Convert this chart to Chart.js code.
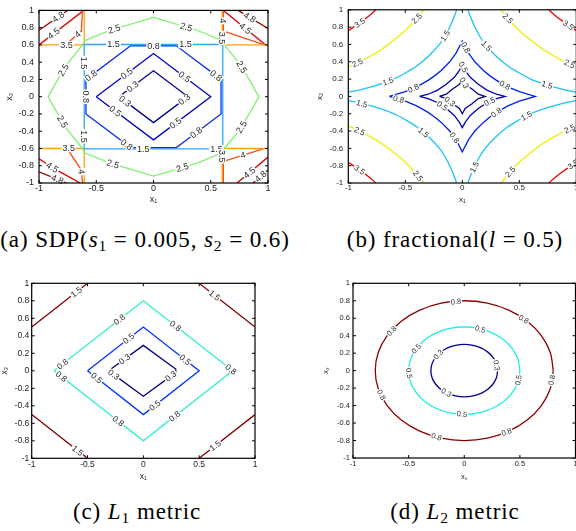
<!DOCTYPE html>
<html>
<head>
<meta charset="utf-8">
<script src="https://cdn.jsdelivr.net/npm/chart.js@4.4.1/dist/chart.umd.min.js"></script>
<style>
  body { margin: 0; background: #fff; }
  #page { position: relative; width: 576px; height: 531px; overflow: hidden; }
  canvas { position: absolute; }
  .cap { position: absolute; transform: translate(-50%, -50%); white-space: nowrap;
         font-family: "Liberation Serif", "DejaVu Serif", serif; font-size: 23px; letter-spacing: 0.9px; color: #000; }
  .cap sub { font-size: 68%; vertical-align: -0.25em; line-height: 0; }
</style>
</head>
<body>
<div id="page">
  <canvas id="pa" width="290" height="212" style="left:0;top:0"></canvas>
  <canvas id="pb" width="300" height="212" style="left:290px;top:0"></canvas>
  <canvas id="pc" width="290" height="212" style="left:0;top:270px"></canvas>
  <canvas id="pd" width="300" height="212" style="left:290px;top:270px"></canvas>
  <div class="cap" style="left:145px;top:240px">(a) SDP(<i>s</i><sub>1</sub> = 0.005, <i>s</i><sub>2</sub> = 0.6)</div>
  <div class="cap" style="left:455px;top:240px">(b) fractional(<i>l</i> = 0.5)</div>
  <div class="cap" style="left:137px;top:512px">(c) <i>L</i><sub>1</sub> metric</div>
  <div class="cap" style="left:455px;top:512px">(d) <i>L</i><sub>2</sub> metric</div>
</div>
<script>
// axis ticks shared by all four panels
const xTicks = [-1, -0.5, 0, 0.5, 1];
const yTicks = [-1, -0.8, -0.6, -0.4, -0.2, 0, 0.2, 0.4, 0.6, 0.8, 1];

// (a) SDP contours, every level is a list of polylines of [x1, x2]
const sdp03 = [[[-0.29,0.01],[0,0.3],[0.29,0.01],[0.29,-0.01],[0,-0.3],[-0.29,-0.01],[-0.29,0.01]]];
const sdp05 = [[[-0.5,0],[0,0.5],[0.5,0],[0,-0.5],[-0.5,0]]];
const sdp08 = [[[-0.2,0.59],[0.2,0.59],[0.59,0.2],[0.59,-0.2],[0.2,-0.59],[-0.2,-0.59],[-0.59,-0.2],[-0.59,0.2],[-0.2,0.59]]];
const sdp15 = [[[-0.605,0.605],[0.605,0.605],[0.605,-0.605],[-0.605,-0.605],[-0.605,0.605]]];
const sdp25 = [[[0,0.92],[0.38,0.77],[0.6,0.65],[0.62,0.6],[0.76,0.37],[0.87,0.12],[0.92,0],[0.87,-0.12],[0.76,-0.37],[0.62,-0.6],[0.6,-0.65],[0.38,-0.77],[0,-0.92],[-0.38,-0.77],[-0.6,-0.65],[-0.62,-0.6],[-0.76,-0.37],[-0.87,-0.12],[-0.92,0],[-0.87,0.12],[-0.76,0.37],[-0.62,0.6],[-0.6,0.65],[-0.38,0.77],[0,0.92]]];
const sdp35 = [
  [[-1,0.6],[-0.605,0.6],[-0.605,1]],
  [[0.6,1],[0.6,0.6],[1,0.6]],
  [[-1,-0.6],[-0.605,-0.6],[-0.605,-1]],
  [[0.6,-1],[0.6,-0.6],[1,-0.6]]
];
const sdp40 = [
  [[-0.77,0.6],[-0.63,0.76],[-0.62,1]],
  [[0.61,1],[0.61,0.76],[0.97,0.6]],
  [[-0.75,-0.61],[-0.63,-0.85],[-0.62,-1]],
  [[0.97,-0.6],[0.61,-0.75],[0.61,-1]]
];
const sdp45 = [
  [[-1,0.6],[-0.61,1]],
  [[0.61,1],[0.98,0.6]],
  [[-1,-0.72],[-0.86,-0.84],[-0.64,-1]],
  [[1,-0.7],[0.73,-1]]
];
const sdp48 = [
  [[-1,0.77],[-0.75,1]],
  [[0.74,1],[1,0.79]],
  [[-1,-0.87],[-0.76,-1]],
  [[1,-0.85],[0.87,-1]]
];
// [level, x1, x2] where the inline label sits
const sdpLabels = [
  [0.3,-0.19,0.13],[0.3,-0.26,-0.07],[0.3,0.28,-0.05],
  [0.5,-0.23,0.26],[0.5,0.26,0.21],[0.5,-0.34,-0.18],[0.5,0.2,-0.32],
  [0.8,0,0.59],[0.8,-0.55,0.25],[0.8,0.55,0.25],[0.8,-0.59,0],[0.8,-0.25,-0.58],[0.8,0.38,-0.43],
  [1.5,-0.35,0.605],[1.5,0.28,0.605],[1.5,-0.605,0.39],[1.5,-0.605,-0.46],[1.5,-0.09,-0.605],[1.5,0.55,-0.605],
  [2.5,-0.34,0.77],[2.5,0.28,0.78],[2.5,-0.8,0.32],[2.5,0.74,0.32],[2.5,-0.85,-0.33],[2.5,0.74,-0.33],[2.5,-0.35,-0.76],[2.5,0.25,-0.81],
  [3.5,-0.76,0.6],[3.5,0.6,0.68],[3.5,-0.74,-0.6],[3.5,0.6,-0.69],
  [4,-0.66,0.72],[4,0.61,0.88],[4,-0.63,-0.87],[4,0.78,-0.67],
  [4.5,-0.87,0.73],[4.5,0.8,0.79],[4.5,-0.875,-0.8],[4.5,0.8,-0.82],
  [4.8,-0.83,0.92],[4.8,0.84,0.92],[4.8,-0.84,-0.96],[4.8,0.92,-0.9]
];

// (b) fractional distance, l = 0.5
const frac03 = [[[-0.2,0],[-0.14,0.025],[-0.085,0.085],[-0.025,0.14],[0,0.2],[0.025,0.14],[0.085,0.085],[0.14,0.025],[0.2,0],[0.14,-0.025],[0.085,-0.085],[0.025,-0.14],[0,-0.2],[-0.025,-0.14],[-0.085,-0.085],[-0.14,-0.025],[-0.2,0]]];
const frac05 = [[[-0.375,0],[-0.3,0.025],[-0.22,0.07],[-0.14,0.14],[-0.07,0.22],[-0.025,0.3],[0,0.36],[0.025,0.3],[0.07,0.22],[0.14,0.14],[0.22,0.07],[0.3,0.025],[0.375,0],[0.3,-0.025],[0.22,-0.07],[0.14,-0.14],[0.07,-0.22],[0.025,-0.3],[0,-0.36],[-0.025,-0.3],[-0.07,-0.22],[-0.14,-0.14],[-0.22,-0.07],[-0.3,-0.025],[-0.375,0]]];
const frac08 = [[[-0.64,0],[-0.5,0.055],[-0.4,0.11],[-0.3,0.185],[-0.24,0.24],[-0.185,0.3],[-0.11,0.4],[-0.055,0.5],[0,0.64],[0.055,0.5],[0.11,0.4],[0.185,0.3],[0.24,0.24],[0.3,0.185],[0.4,0.11],[0.5,0.055],[0.64,0],[0.5,-0.055],[0.4,-0.11],[0.3,-0.185],[0.24,-0.24],[0.185,-0.3],[0.11,-0.4],[0.055,-0.5],[0,-0.64],[-0.055,-0.5],[-0.11,-0.4],[-0.185,-0.3],[-0.24,-0.24],[-0.3,-0.185],[-0.4,-0.11],[-0.5,-0.055],[-0.64,0]]];
const frac15 = [
  [[-1,0.05],[-0.9,0.075],[-0.8,0.11],[-0.7,0.15],[-0.6,0.2],[-0.5,0.27],[-0.4,0.35],[-0.3,0.46],[-0.2,0.6],[-0.15,0.7],[-0.1,0.83],[-0.06,0.96],[-0.05,1]],
  [[1,0.05],[0.9,0.075],[0.8,0.11],[0.7,0.15],[0.6,0.2],[0.5,0.27],[0.4,0.35],[0.3,0.46],[0.2,0.6],[0.15,0.7],[0.1,0.83],[0.06,0.96],[0.05,1]],
  [[-1,-0.05],[-0.9,-0.075],[-0.8,-0.11],[-0.7,-0.15],[-0.6,-0.2],[-0.5,-0.27],[-0.4,-0.35],[-0.3,-0.46],[-0.2,-0.6],[-0.15,-0.7],[-0.1,-0.83],[-0.06,-0.96],[-0.05,-1]],
  [[1,-0.05],[0.9,-0.075],[0.8,-0.11],[0.7,-0.15],[0.6,-0.2],[0.5,-0.27],[0.4,-0.35],[0.3,-0.46],[0.2,-0.6],[0.15,-0.7],[0.1,-0.83],[0.06,-0.96],[0.05,-1]]
];
const frac25 = [
  [[-1,0.34],[-0.9,0.4],[-0.8,0.47],[-0.7,0.55],[-0.6,0.65],[-0.5,0.76],[-0.4,0.9],[-0.34,1]],
  [[1,0.34],[0.9,0.4],[0.8,0.47],[0.7,0.55],[0.6,0.65],[0.5,0.76],[0.4,0.9],[0.34,1]],
  [[-1,-0.34],[-0.9,-0.4],[-0.8,-0.47],[-0.7,-0.55],[-0.6,-0.65],[-0.5,-0.76],[-0.4,-0.9],[-0.34,-1]],
  [[1,-0.34],[0.9,-0.4],[0.8,-0.47],[0.7,-0.55],[0.6,-0.65],[0.5,-0.76],[0.4,-0.9],[0.34,-1]]
];
const frac35 = [
  [[-1,0.76],[-0.9,0.85],[-0.8,0.95],[-0.76,1]],
  [[1,0.76],[0.9,0.85],[0.8,0.95],[0.76,1]],
  [[-1,-0.76],[-0.9,-0.85],[-0.8,-0.95],[-0.76,-1]],
  [[1,-0.76],[0.9,-0.85],[0.8,-0.95],[0.76,-1]]
];
const fracLabels = [
  [0.3,0.01,0.15],[0.3,-0.11,-0.06],
  [0.5,0.01,0.34],[0.5,-0.17,-0.1],[0.5,0.24,-0.06],
  [0.8,0.02,0.56],[0.8,-0.44,0.13],[0.8,0.37,0.12],[0.8,-0.56,-0.04],[0.8,0.29,-0.17],[0.8,-0.06,-0.47],
  [1.5,-0.15,0.7],[1.5,0.21,0.58],[1.5,-0.65,0.17],[1.5,0.74,0.12],[1.5,-0.88,-0.08],[1.5,0.56,-0.22],[1.5,-0.33,-0.4],[1.5,0.11,-0.82],
  [2.5,-0.4,0.9],[2.5,0.4,0.9],[2.5,-0.92,0.39],[2.5,0.94,0.37],[2.5,-0.9,-0.4],[2.5,0.94,-0.37],[2.5,-0.39,-0.92],[2.5,0.42,-0.87],
  [3.5,-0.9,0.85],[3.5,0.93,0.82],[3.5,-0.9,-0.85],[3.5,0.97,-0.78]
];

// (c) L1 metric
const l1_03 = [[[-0.29,0.02],[0,0.29],[0.29,0.02],[0.29,-0.02],[0,-0.29],[-0.29,-0.02],[-0.29,0.02]]];
const l1_05 = [[[-0.5,0],[0,0.5],[0.5,0],[0,-0.5],[-0.5,0]]];
const l1_08 = [[[-0.8,0],[0,0.8],[0.8,0],[0,-0.8],[-0.8,0]]];
const l1_15 = [
  [[-1,0.5],[-0.5,1]],
  [[0.5,1],[1,0.5]],
  [[-1,-0.5],[-0.5,-1]],
  [[0.5,-1],[1,-0.5]]
];
const l1Labels = [
  [0.3,-0.16,0.12],[0.3,-0.28,-0.07],[0.3,0.25,-0.07],
  [0.5,-0.12,0.35],[0.5,0.37,0.12],[0.5,-0.43,-0.1],[0.5,0.1,-0.39],
  [0.8,-0.21,0.58],[0.8,0.28,0.5],[0.8,-0.72,0.07],[0.8,-0.75,-0.09],[0.8,0.78,0.01],[0.8,-0.24,-0.6],[0.8,0.28,-0.52],
  [1.5,-0.6,0.9],[1.5,0.63,0.85],[1.5,-0.6,-0.93],[1.5,0.64,-0.85]
];

// (d) L2 metric
const l2_03 = [[[0.3,0],[0.29,0.078],[0.26,0.15],[0.212,0.212],[0.15,0.26],[0.078,0.29],[0,0.3],[-0.078,0.29],[-0.15,0.26],[-0.212,0.212],[-0.26,0.15],[-0.29,0.078],[-0.3,0],[-0.29,-0.078],[-0.26,-0.15],[-0.212,-0.212],[-0.15,-0.26],[-0.078,-0.29],[0,-0.3],[0.078,-0.29],[0.15,-0.26],[0.212,-0.212],[0.26,-0.15],[0.29,-0.078],[0.3,0]]];
const l2_05 = [[[0.5,0],[0.483,0.129],[0.433,0.25],[0.354,0.354],[0.25,0.433],[0.129,0.483],[0,0.5],[-0.129,0.483],[-0.25,0.433],[-0.354,0.354],[-0.433,0.25],[-0.483,0.129],[-0.5,0],[-0.483,-0.129],[-0.433,-0.25],[-0.354,-0.354],[-0.25,-0.433],[-0.129,-0.483],[0,-0.5],[0.129,-0.483],[0.25,-0.433],[0.354,-0.354],[0.433,-0.25],[0.483,-0.129],[0.5,0]]];
const l2_08 = [[[0.8,0],[0.773,0.207],[0.693,0.4],[0.566,0.566],[0.4,0.693],[0.207,0.773],[0,0.8],[-0.207,0.773],[-0.4,0.693],[-0.566,0.566],[-0.693,0.4],[-0.773,0.207],[-0.8,0],[-0.773,-0.207],[-0.693,-0.4],[-0.566,-0.566],[-0.4,-0.693],[-0.207,-0.773],[0,-0.8],[0.207,-0.773],[0.4,-0.693],[0.566,-0.566],[0.693,-0.4],[0.773,-0.207],[0.8,0]]];
const l2Labels = [
  [0.3,-0.23,0.18],[0.3,0.28,0.06],[0.3,-0.17,-0.27],
  [0.5,0.14,0.46],[0.5,-0.43,0.25],[0.5,-0.5,-0.03],[0.5,0.5,-0.11],[0.5,-0.02,-0.5],
  [0.8,-0.075,0.8],[0.8,0.53,0.58],[0.8,-0.65,0.45],[0.8,0.8,-0.11],[0.8,-0.75,-0.28],[0.8,0.38,-0.7],[0.8,-0.25,-0.76]
];

function fmt(v) {
  return String(Math.round(v * 10) / 10);
}

// box with inward ticks (matlab style) + inline contour labels
const contourFrame = {
  id: 'contourFrame',
  afterDatasetsDraw(chart, args, opts) {
    const ctx = chart.ctx, a = chart.chartArea;
    const xs = chart.scales.x, ys = chart.scales.y;
    ctx.save();
    ctx.font = opts.size + 'px "Liberation Sans", Arial, sans-serif';
    ctx.textAlign = 'center';
    ctx.textBaseline = 'middle';
    opts.labels.forEach(function (lb) {
      const px = xs.getPixelForValue(lb[1]), py = ys.getPixelForValue(lb[2]);
      let best = null;
      chart.data.datasets.forEach(function (ds) {
        if (ds.level !== lb[0]) return;
        for (let i = 1; i < ds.data.length; i++) {
          const x1 = xs.getPixelForValue(ds.data[i - 1].x), y1 = ys.getPixelForValue(ds.data[i - 1].y);
          const x2 = xs.getPixelForValue(ds.data[i].x), y2 = ys.getPixelForValue(ds.data[i].y);
          const dx = x2 - x1, dy = y2 - y1, len2 = dx * dx + dy * dy;
          let t = len2 ? ((px - x1) * dx + (py - y1) * dy) / len2 : 0;
          t = Math.max(0, Math.min(1, t));
          const qx = x1 + t * dx, qy = y1 + t * dy;
          const d = (qx - px) * (qx - px) + (qy - py) * (qy - py);
          if (!best || d < best.d) best = {d: d, x: qx, y: qy, ang: Math.atan2(dy, dx)};
        }
      });
      if (!best) return;
      let ang = best.ang;
      if (ang > Math.PI / 2 + 0.01) ang -= Math.PI;
      if (ang < -Math.PI / 2 + 0.01) ang += Math.PI;
      const txt = String(lb[0]);
      const tw = ctx.measureText(txt).width;
      ctx.save();
      ctx.translate(best.x, best.y);
      ctx.rotate(ang);
      ctx.fillStyle = '#fff';
      ctx.fillRect(-tw / 2 - 1, -opts.size * 0.42, tw + 2, opts.size * 0.84);
      ctx.fillStyle = '#2a2a2a';
      ctx.fillText(txt, 0, 0.5);
      ctx.restore();
    });

    ctx.strokeStyle = '#000';
    ctx.lineWidth = 1.2;
    ctx.strokeRect(a.left, a.top, a.right - a.left, a.bottom - a.top);
    ctx.beginPath();
    xTicks.forEach(function (v) {
      const p = xs.getPixelForValue(v);
      ctx.moveTo(p, a.bottom); ctx.lineTo(p, a.bottom - 3);
      ctx.moveTo(p, a.top); ctx.lineTo(p, a.top + 3);
    });
    yTicks.forEach(function (v) {
      const p = ys.getPixelForValue(v);
      ctx.moveTo(a.left, p); ctx.lineTo(a.left + 3, p);
      ctx.moveTo(a.right, p); ctx.lineTo(a.right - 3, p);
    });
    ctx.lineWidth = 1;
    ctx.stroke();
    ctx.restore();
  }
};

function buildDatasets(levels) {
  const out = [];
  levels.forEach(function (lv) {
    lv.lines.forEach(function (seg) {
      out.push({
        level: lv.value,
        data: seg.map(function (p) { return {x: p[0], y: p[1]}; }),
        showLine: true,
        borderColor: lv.color,
        borderWidth: 1.3,
        tension: lv.tension || 0,
        pointRadius: 0,
        fill: false
      });
    });
  });
  return out;
}

function makePanel(id, p) {
  const cv = document.getElementById(id);
  const W = cv.width, H = cv.height;
  const font = {family: '"Liberation Sans", Arial, sans-serif', size: p.font};
  return new Chart(cv, {
    type: 'scatter',
    data: {datasets: buildDatasets(p.levels)},
    options: {
      responsive: false,
      animation: false,
      events: [],
      layout: {autoPadding: false, padding: {left: 0, top: p.area[1], right: W - p.area[2], bottom: 0}},
      plugins: {
        legend: {display: false},
        tooltip: {enabled: false},
        contourFrame: {labels: p.labels, size: p.font}
      },
      scales: {
        x: {
          type: 'linear', min: -1, max: 1,
          afterBuildTicks: function (s) { s.ticks = xTicks.map(function (v) { return {value: v}; }); },
          afterFit: function (s) { s.height = H - p.area[3]; },
          grid: {display: false, drawTicks: false},
          border: {display: false},
          ticks: {font: font, color: '#222', padding: p.xTickPad, maxRotation: 0, autoSkip: false, callback: fmt},
          title: {display: true, text: 'x\u2081', font: font, color: '#222', padding: {top: 0, bottom: p.xTitlePad}}
        },
        y: {
          type: 'linear', min: -1, max: 1,
          afterBuildTicks: function (s) { s.ticks = yTicks.map(function (v) { return {value: v}; }); },
          afterFit: function (s) { s.width = p.area[0]; },
          grid: {display: false, drawTicks: false},
          border: {display: false},
          ticks: {font: font, color: '#222', padding: p.yTickPad, autoSkip: false, callback: fmt},
          title: {display: true, text: 'x\u2082', font: font, color: '#222', padding: {top: p.yTitlePad, bottom: 0}}
        }
      }
    },
    plugins: [contourFrame]
  });
}

makePanel('pa', {
  levels: [
    {value: 0.3, color: '#00008c', lines: sdp03},
    {value: 0.5, color: '#0000c4', lines: sdp05},
    {value: 0.8, color: '#0a2cf0', lines: sdp08},
    {value: 1.5, color: '#2ca8f8', lines: sdp15},
    {value: 2.5, color: '#80f070', lines: sdp25},
    {value: 3.5, color: '#ffa010', lines: sdp35},
    {value: 4, color: '#ff4a10', lines: sdp40},
    {value: 4.5, color: '#d80000', lines: sdp45},
    {value: 4.8, color: '#9a0000', lines: sdp48}
  ],
  labels: sdpLabels,
  area: [39, 4, 268, 183], font: 9, xTickPad: 0, xTitlePad: 6.6, yTickPad: 5, yTitlePad: 4.6
});

makePanel('pb', {
  levels: [
    {value: 0.3, color: '#000090', lines: frac03},
    {value: 0.5, color: '#0000c0', lines: frac05},
    {value: 0.8, color: '#0020f0', lines: frac08},
    {value: 1.5, color: '#18c4f4', lines: frac15, tension: 0.3},
    {value: 2.5, color: '#eeee00', lines: frac25, tension: 0.3},
    {value: 3.5, color: '#f00000', lines: frac35, tension: 0.3}
  ],
  labels: fracLabels,
  area: [58.3, 4, 286.3, 183], font: 8, xTickPad: 0, xTitlePad: 7.2, yTickPad: 5, yTitlePad: 24.5
});

makePanel('pc', {
  levels: [
    {value: 0.3, color: '#000080', lines: l1_03},
    {value: 0.5, color: '#0030ff', lines: l1_05},
    {value: 0.8, color: '#30f0d0', lines: l1_08},
    {value: 1.5, color: '#800000', lines: l1_15}
  ],
  labels: l1Labels,
  area: [31.7, 13.3, 255, 188.3], font: 8.5, xTickPad: 1.6, xTitlePad: 0, yTickPad: 2.5, yTitlePad: 0
});

makePanel('pd', {
  levels: [
    {value: 0.3, color: '#000090', lines: l2_03, tension: 0.34},
    {value: 0.5, color: '#20f0e0', lines: l2_05, tension: 0.34},
    {value: 0.8, color: '#8c0000', lines: l2_08, tension: 0.34}
  ],
  labels: l2Labels,
  area: [63, 13.3, 285.5, 188], font: 7.5, xTickPad: 1.5, xTitlePad: 0.5, yTickPad: 3, yTitlePad: 31.5
});
</script>
</body>
</html>
